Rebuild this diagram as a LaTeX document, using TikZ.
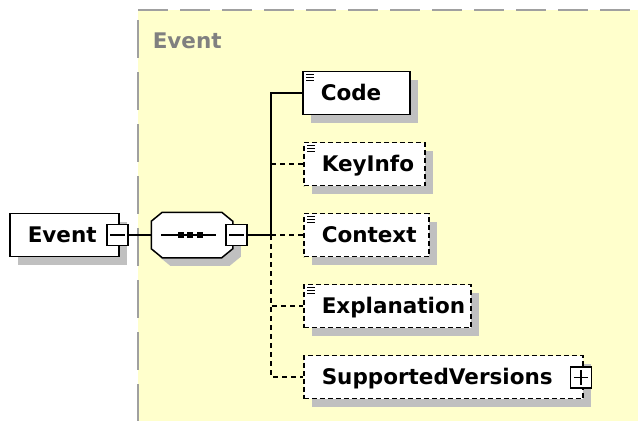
\documentclass[tikz,border=0pt]{standalone}
\usepackage{fontspec}
\setmainfont{DejaVu Sans}
\usetikzlibrary{shadows}
\definecolor{schemayellow}{RGB}{255,255,204}
\definecolor{shadowgray}{RGB}{192,192,192}
\definecolor{framegray}{RGB}{160,160,160}
\definecolor{labelgray}{RGB}{128,128,128}

\begin{document}
\begin{tikzpicture}[x=1pt,y=-1pt,line width=1.5pt,
  shade box/.style={drop shadow={shadow xshift=8pt,shadow yshift=-8pt,opacity=1,fill=shadowgray}},
  elem node/.style={rectangle,draw,fill=white,shade box,anchor=west,minimum height=43pt,
    inner xsep=18pt,inner ysep=0pt,text height=15pt,text depth=0pt,align=left,
    font=\bfseries\fontsize{21.5}{21.5}\selectfont},
  opt node/.style={elem node,dash pattern=on 5pt off 3pt},
  seq node/.style={rectangle,minimum width=80pt,minimum height=44pt,inner sep=0pt},
  btn node/.style={rectangle,draw,fill=white,minimum size=21pt,inner sep=0pt,line width=1.2pt},
  opt conn/.style={dash pattern=on 5pt off 4pt}]

  \useasboundingbox (0,0) rectangle (638,421);

  % yellow frame of the complex type
  \fill[schemayellow] (138,10) rectangle (638,421);
  \draw[framegray,line width=1.5pt,dash pattern=on 30pt off 12pt] (138,10) -- (638,10);
  \draw[framegray,line width=1.5pt,dash pattern=on 38pt off 14pt] (138,20) -- (138,421);
  \node[anchor=west,inner xsep=0pt,text=labelgray,text height=15pt,text depth=0pt,
    font=\bfseries\fontsize{21.5}{21.5}\selectfont] (title) at (152,41) {Event};

  % nodes
  \node[elem node,text width=73pt] (event) at (9,235) {Event};
  \node[btn node] (m1) at (117.5,235) {};
  \node[seq node] (seq) at (192,235) {};
  \draw[fill=white,shade box] ([yshift=-9pt]seq.north west) -- ([xshift=11pt]seq.north west)
    -- ([xshift=-11pt]seq.north east) -- ([yshift=-9pt]seq.north east)
    -- ([yshift=9pt]seq.south east) -- ([xshift=-11pt]seq.south east)
    -- ([xshift=11pt]seq.south west) -- ([yshift=9pt]seq.south west) -- cycle;
  \node[btn node] (m2) at (236.5,235) {};
  \coordinate (fork) at (271,235);

  \node[elem node,text width=71pt] (code) at (302,93) {Code};
  \node[opt node,text width=85pt] (keyinfo) at (303,164) {KeyInfo};
  \node[opt node,text width=89pt] (context) at (303,235) {Context};
  \node[opt node,text width=131pt] (explanation) at (303,306) {Explanation};
  \node[opt node,text width=243pt] (versions) at (303,377) {SupportedVersions};
  \node[btn node] (p1) at (581,377.5) {};

  % connectors
  \draw (m1.east) -- (seq.west);
  \draw (m2.east) -- (fork) |- (code.west);
  \draw[opt conn] (keyinfo.west -| fork) -- (keyinfo.west);
  \draw[opt conn] (fork) -- (context.west);
  \draw[opt conn] (fork) |- (explanation.west);
  \draw[opt conn] (fork) |- (versions.west);

  % sequence symbol
  \draw ([xshift=10pt]seq.west) -- ([xshift=-17pt]seq.east);
  \foreach \dx in {-11,-2,8}
    \fill ([xshift=\dx pt]seq.center) +(-3,-3) rectangle +(3,3);

  % minus and plus signs
  \draw[line width=1.2pt] ([xshift=4pt]m1.west) -- ([xshift=-4pt]m1.east);
  \draw[line width=1.2pt] ([xshift=4pt]m2.west) -- ([xshift=-4pt]m2.east);
  \draw[line width=1.2pt] ([xshift=4pt]p1.west) -- ([xshift=-4pt]p1.east);
  \draw[line width=1.2pt] ([yshift=4pt]p1.south) -- ([yshift=-4pt]p1.north);

  % documentation marks
  \foreach \n in {code,keyinfo,context,explanation}
    \foreach \dy in {4,7,10}
      \draw[line width=1pt] ([shift={(4,\dy)}]\n.north west) -- ++(8,0);
\end{tikzpicture}
\end{document}
